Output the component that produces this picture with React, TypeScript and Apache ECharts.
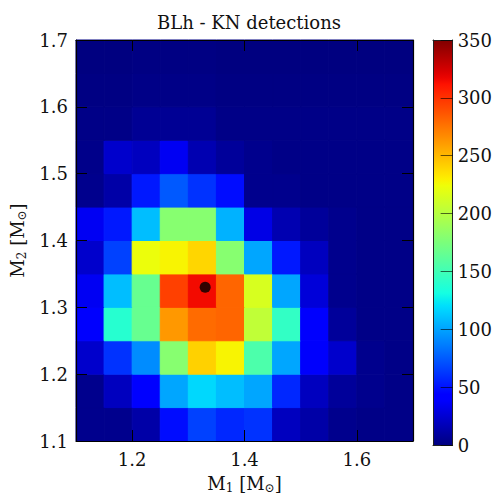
import React, { useEffect, useRef } from "react";
import * as echarts from "echarts";

// Bin lower edges (M1 along x, M2 along y)
const xEdges = [1.1, 1.15, 1.2, 1.25, 1.3, 1.35, 1.4, 1.45, 1.5, 1.55, 1.6, 1.65];
const yEdges = [1.1, 1.15, 1.2, 1.25, 1.3, 1.35, 1.4, 1.45, 1.5, 1.55, 1.6, 1.65];
const binWidth = 0.05;

// Detection counts, rows from bottom (M2 = 1.1) to top (M2 = 1.65)
const counts: number[][] = [
  [4, 4, 12, 48, 66, 57, 61, 19, 12, 4, 2, 2],
  [4, 19, 42, 101, 118, 109, 101, 57, 19, 8, 4, 2],
  [23, 61, 92, 180, 241, 228, 155, 101, 38, 23, 4, 2],
  [40, 139, 166, 262, 279, 281, 204, 144, 40, 8, 2, 2],
  [35, 109, 166, 295, 315, 281, 214, 101, 27, 4, 2, 2],
  [23, 66, 223, 228, 239, 180, 101, 52, 19, 4, 2, 2],
  [35, 52, 109, 180, 180, 105, 31, 15, 8, 4, 2, 2],
  [4, 12, 52, 74, 61, 48, 4, 4, 2, 2, 2, 2],
  [3, 23, 19, 35, 15, 8, 4, 2, 2, 2, 2, 2],
  [2, 2, 6, 6, 6, 2, 2, 2, 2, 2, 2, 2],
  [1, 1, 2, 2, 2, 1, 1, 1, 1, 1, 1, 1],
  [0, 0, 1, 1, 1, 0, 0, 0, 0, 0, 0, 0],
];

const marker = [[1.33, 1.33]];

const xTicks = [1.2, 1.4, 1.6];
const yTicks = [1.1, 1.2, 1.3, 1.4, 1.5, 1.6, 1.7];
const cMin = 0;
const cMax = 350;
const cInterval = 50;

// matplotlib "jet" colormap segments
const jetR = [[0, 0], [0.35, 0], [0.66, 1], [0.89, 1], [1, 0.5]];
const jetG = [[0, 0], [0.125, 0], [0.375, 1], [0.64, 1], [0.91, 0], [1, 0]];
const jetB = [[0, 0.5], [0.11, 1], [0.34, 1], [0.65, 0], [1, 0]];

function seg(s: number[][], t: number) {
  for (let i = 0; i < s.length - 1; i++) {
    const [t0, v0] = s[i];
    const [t1, v1] = s[i + 1];
    if (t >= t0 && t <= t1) return v0 + ((v1 - v0) * (t - t0)) / (t1 - t0);
  }
  return s[s.length - 1][1];
}
function jet(t: number) {
  const r = Math.round(seg(jetR, t) * 255);
  const g = Math.round(seg(jetG, t) * 255);
  const b = Math.round(seg(jetB, t) * 255);
  return `rgb(${r},${g},${b})`;
}
const N = 64;
const jetColors: string[] = [];
for (let i = 0; i <= N; i++) jetColors.push(jet(i / N));

const FONT = "DejaVu Serif";

export default function App() {
  const ref = useRef<HTMLDivElement>(null);
  useEffect(() => {
    if (!ref.current) return;
    const chart = echarts.init(ref.current, undefined, { renderer: "svg" });
    const cells: number[][] = [];
    counts.forEach((row, j) =>
      row.forEach((v, i) => cells.push([xEdges[i], yEdges[j], v]))
    );
    const line = () => ({ show: true, onZero: false, lineStyle: { color: "#000", width: 1.2 } });
    const hiddenLabel = { show: false };
    const labelStyle = { fontFamily: FONT, fontSize: 18, color: "#111" };
    const rich = {
      sub: { fontFamily: FONT, fontSize: 12, color: "#111", verticalAlign: "bottom", padding: [9, 0, 0, 0] },
    };
    const fmt = (v: number) => Number(v).toFixed(1);
    const tick = (vals: number[]) => ({
      show: true, inside: true, length: 11, customValues: vals, lineStyle: { color: "#000", width: 1 },
    });
    chart.setOption({
      animation: false,
      title: {
        text: "BLh - KN detections",
        left: 244,
        textAlign: "center",
        top: 8,
        textStyle: { fontFamily: FONT, fontSize: 18, fontWeight: "normal", color: "#111" },
      },
      grid: [
        { left: 76, top: 40, width: 337, height: 405 },
        { left: 433, top: 40, width: 20, height: 405 },
      ],
      xAxis: [
        {
          type: "value", gridIndex: 0, min: 1.1, max: 1.7, position: "bottom", z: 10,
          axisLine: line(), splitLine: { show: false },
          axisTick: tick(xTicks),
          axisLabel: { ...labelStyle, margin: 9, customValues: xTicks, formatter: fmt },
          name: "M{sub|1} [M{sub|⊙}]",
          nameLocation: "middle", nameGap: 32,
          nameTextStyle: { ...labelStyle, rich },
        },
        {
          type: "value", gridIndex: 0, min: 1.1, max: 1.7, position: "top", z: 10,
          axisLine: line(), splitLine: { show: false },
          axisTick: tick(xTicks),
          axisLabel: hiddenLabel,
        },
        {
          type: "value", gridIndex: 1, min: 0, max: 1, position: "bottom", z: 10,
          axisLine: { show: true, onZero: false, lineStyle: { color: "#222", width: 1 } },
          axisTick: { show: false }, axisLabel: hiddenLabel, splitLine: { show: false },
        },
        {
          type: "value", gridIndex: 1, min: 0, max: 1, position: "top", z: 10,
          axisLine: { show: true, onZero: false, lineStyle: { color: "#222", width: 1 } },
          axisTick: { show: false }, axisLabel: hiddenLabel, splitLine: { show: false },
        },
      ],
      yAxis: [
        {
          type: "value", gridIndex: 0, min: 1.1, max: 1.7, position: "left", z: 10,
          axisLine: line(), splitLine: { show: false },
          axisTick: tick(yTicks),
          axisLabel: { ...labelStyle, margin: 8, customValues: yTicks, formatter: fmt },
          name: "M{sub|2} [M{sub|⊙}]",
          nameLocation: "middle", nameGap: 42, nameRotate: 90,
          nameTextStyle: { ...labelStyle, rich },
        },
        {
          type: "value", gridIndex: 0, min: 1.1, max: 1.7, position: "right", z: 10,
          axisLine: line(), splitLine: { show: false },
          axisTick: tick(yTicks),
          axisLabel: hiddenLabel,
        },
        {
          type: "value", gridIndex: 1, min: cMin, max: cMax, interval: cInterval, position: "right", z: 10,
          axisLine: { show: true, onZero: false, lineStyle: { color: "#222", width: 1 } },
          splitLine: { show: false },
          axisTick: { show: true, inside: true, length: 12, lineStyle: { color: "rgba(0,0,0,0.6)" } },
          axisLabel: { ...labelStyle, margin: 5, formatter: (v: number) => String(v) },
        },
        {
          type: "value", gridIndex: 1, min: cMin, max: cMax, position: "left", z: 10,
          axisLine: { show: true, onZero: false, lineStyle: { color: "#222", width: 1 } },
          splitLine: { show: false }, axisTick: { show: false }, axisLabel: hiddenLabel,
        },
      ],
      visualMap: {
        show: false, type: "continuous", min: cMin, max: cMax, dimension: 2, seriesIndex: 0,
        inRange: { color: jetColors },
      },
      series: [
        {
          type: "custom",
          xAxisIndex: 0, yAxisIndex: 0,
          data: cells,
          encode: { x: 0, y: 1 },
          renderItem: (params: any, api: any) => {
            const x = api.value(0);
            const y = api.value(1);
            const p0 = api.coord([x, y + binWidth]);
            const p1 = api.coord([x + binWidth, y]);
            const c = api.visual("color");
            return {
              type: "rect",
              shape: { x: p0[0], y: p0[1], width: p1[0] - p0[0], height: p1[1] - p0[1] },
              style: { fill: c, stroke: c, lineWidth: 1 },
            };
          },
          z: 1,
        },
        {
          type: "scatter",
          xAxisIndex: 0, yAxisIndex: 0,
          data: marker,
          symbol: "circle", symbolSize: 11,
          itemStyle: { color: "#000" },
          z: 5,
        },
        {
          type: "custom",
          xAxisIndex: 2, yAxisIndex: 2,
          data: [[0, cMin, cMax]],
          renderItem: (params: any, api: any) => {
            const p0 = api.coord([0, api.value(2)]);
            const p1 = api.coord([1, api.value(1)]);
            const stops = jetColors.map((c, i) => ({ offset: i / (jetColors.length - 1), color: c }));
            return {
              type: "rect",
              shape: { x: p0[0], y: p0[1], width: p1[0] - p0[0], height: p1[1] - p0[1] },
              style: { fill: new echarts.graphic.LinearGradient(0, 1, 0, 0, stops) },
            };
          },
          z: 1,
        },
      ],
    });
    return () => chart.dispose();
  }, []);
  return (
    <div
      ref={ref}
      style={{ position: "fixed", left: 0, top: 0, width: 495, height: 499, background: "#fff" }}
    />
  );
}
